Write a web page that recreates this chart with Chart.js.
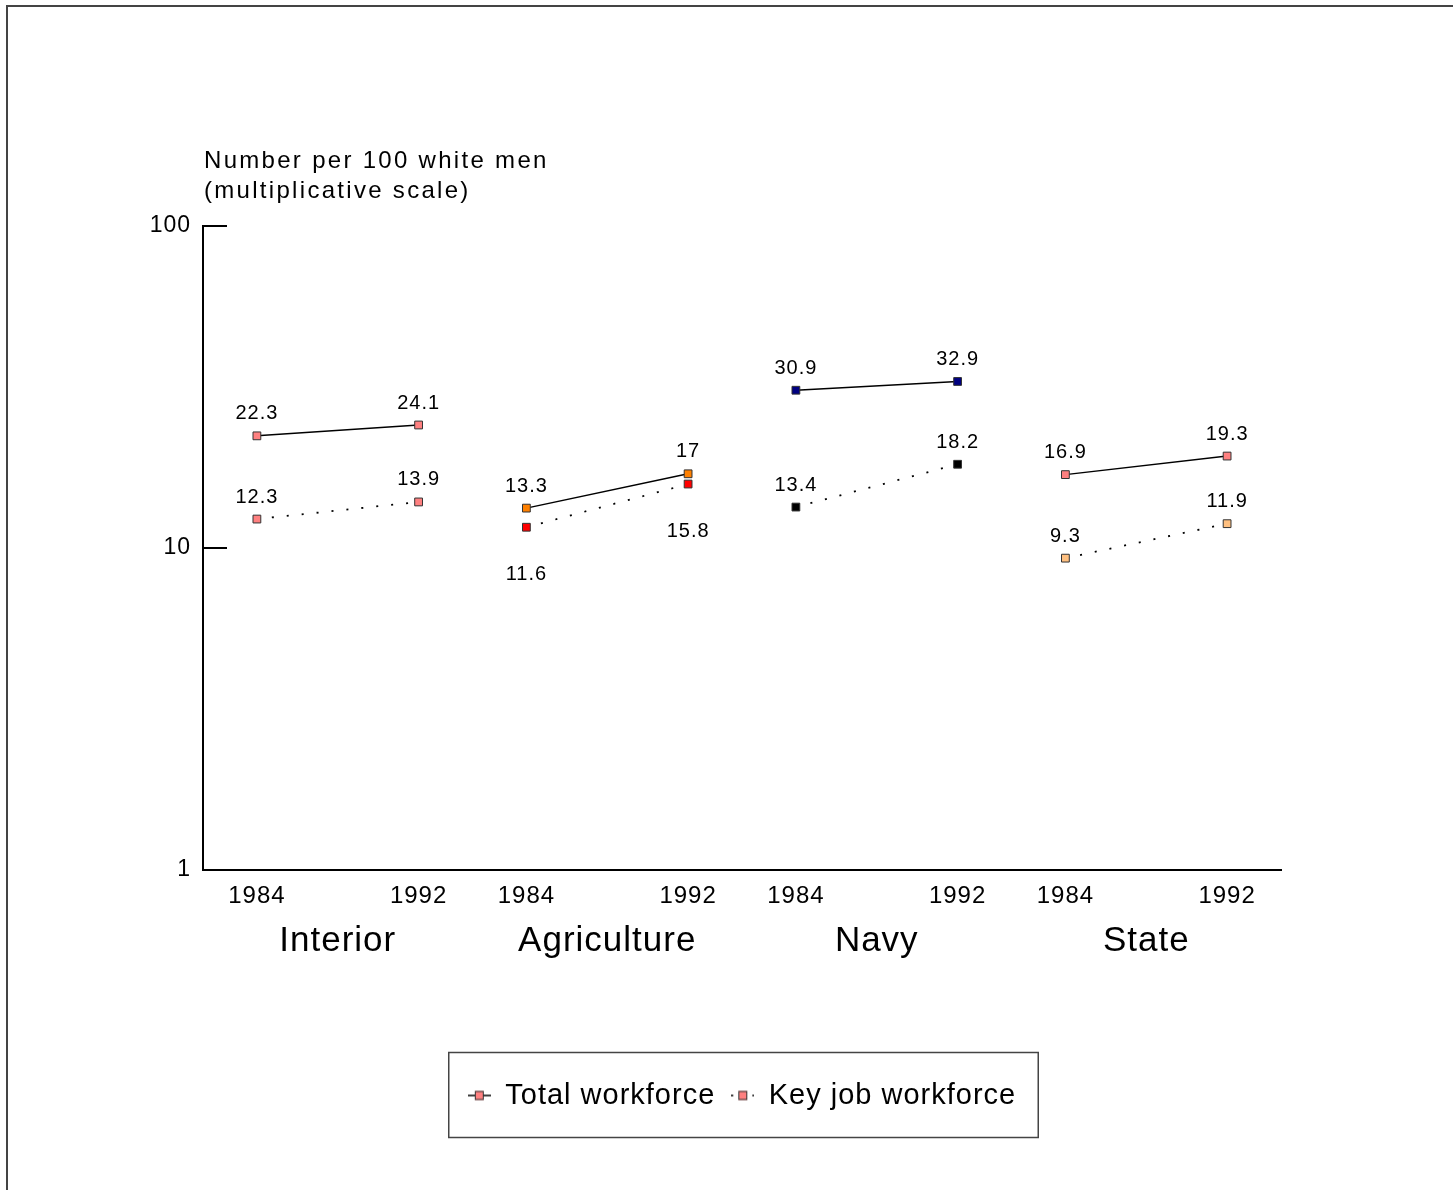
<!DOCTYPE html>
<html>
<head>
<meta charset="utf-8">
<script src="https://cdn.jsdelivr.net/npm/chart.js@4.4.0/dist/chart.umd.min.js"></script>
<style>
  html, body { margin: 0; padding: 0; background: #fff; }
  canvas { display: block; }
</style>
</head>
<body>
<canvas id="chart" width="1453" height="1190"></canvas>
<script>
const groups = ['Interior', 'Agriculture', 'Navy', 'State'];
const years = ['1984', '1992'];
const totalWorkforce = [[22.3, 24.1], [13.3, 17], [30.9, 32.9], [16.9, 19.3]];
const keyJobWorkforce = [[12.3, 13.9], [11.6, 15.8], [13.4, 18.2], [9.3, 11.9]];
const yTicks = [1, 10, 100];
const yTitle = ['Number per 100 white men', '(multiplicative scale)'];

const totalColors = ['#ff8080', '#ff8000', '#000080', '#ff8080'];
const keyColors = ['#ff8080', '#ff0000', '#000000', '#ffc080'];

const FONT = '"Liberation Sans", Arial, sans-serif';

// each group takes 5 units on the x scale, years 3 units apart
const xPos = (g, y) => g * 5 + 1 + y * 3;
const yearTicks = [];
groups.forEach((g, i) => years.forEach((yr, j) => yearTicks.push({ value: xPos(i, j), label: yr })));
const groupTicks = groups.map((g, i) => ({ value: i * 5 + 2.5, label: g }));

const datasets = [];
groups.forEach((g, i) => {
    datasets.push({
        label: 'Total workforce',
        data: years.map((yr, j) => ({ x: xPos(i, j), y: totalWorkforce[i][j] })),
        borderColor: '#000',
        borderWidth: 1.5,
        pointStyle: 'rect',
        pointRadius: 5.5,
        pointBackgroundColor: totalColors[i],
        pointBorderColor: '#333',
        pointBorderWidth: 1,
        labelBelow: false,
    });
    datasets.push({
        label: 'Key job workforce',
        data: years.map((yr, j) => ({ x: xPos(i, j), y: keyJobWorkforce[i][j] })),
        borderColor: '#000',
        borderWidth: 1.8,
        borderDash: [2, 13],
        pointStyle: 'rect',
        pointRadius: 5.5,
        pointBackgroundColor: keyColors[i],
        pointBorderColor: '#333',
        pointBorderWidth: 1,
        labelBelow: i === 1,
    });
});

function legendSymbol(dotted) {
    const c = document.createElement('canvas');
    c.width = 23;
    c.height = 12;
    const g = c.getContext('2d');
    g.strokeStyle = '#000';
    g.lineWidth = 1.5;
    if (dotted) g.setLineDash([2, 5]);
    g.beginPath();
    g.moveTo(0, 6);
    g.lineTo(23, 6);
    g.stroke();
    g.setLineDash([]);
    g.fillStyle = '#ff8080';
    g.fillRect(7, 1.5, 9, 9);
    g.strokeStyle = '#333';
    g.lineWidth = 1;
    g.strokeRect(7.5, 2, 8, 8);
    return c;
}

const spacing = {
    id: 'spacing',
    beforeLayout(chart) { chart.ctx.letterSpacing = '1px'; },
    beforeDraw(chart) { chart.ctx.letterSpacing = '1px'; },
};

const extras = {
    id: 'extras',
    afterDraw(chart) {
        const ctx = chart.ctx;
        const area = chart.chartArea;
        const y = chart.scales.y;
        ctx.save();

        // outer frame
        ctx.strokeStyle = '#444';
        ctx.lineWidth = 2;
        ctx.beginPath();
        ctx.moveTo(7, chart.height);
        ctx.lineTo(7, 6);
        ctx.lineTo(chart.width, 6);
        ctx.stroke();

        // inside tick marks on the y axis
        ctx.strokeStyle = '#000';
        ctx.lineWidth = 2;
        yTicks.slice(1).forEach(v => {
            const py = Math.round(y.getPixelForValue(v));
            ctx.beginPath();
            ctx.moveTo(area.left, py);
            ctx.lineTo(area.left + 24, py);
            ctx.stroke();
        });

        // axis title above the plot
        ctx.fillStyle = '#000';
        ctx.font = '24px ' + FONT;
        ctx.letterSpacing = '2.3px';
        ctx.textAlign = 'left';
        ctx.textBaseline = 'alphabetic';
        ctx.fillText(yTitle[0], area.left + 1, area.top - 58);
        ctx.fillText(yTitle[1], area.left + 1, area.top - 28);

        // value labels
        ctx.font = '20px ' + FONT;
        ctx.letterSpacing = '1px';
        ctx.textAlign = 'center';
        ctx.textBaseline = 'middle';
        chart.data.datasets.forEach((ds, di) => {
            const meta = chart.getDatasetMeta(di);
            meta.data.forEach((pt, pi) => {
                const off = ds.labelBelow ? 47 : -22;
                ctx.fillText(String(ds.data[pi].y), pt.x, pt.y + off);
            });
        });

        // legend frame
        const hb = chart.legend.legendHitBoxes;
        if (hb && hb.length) {
            const first = hb[0];
            const last = hb[hb.length - 1];
            const left = first.left - 19;
            const right = last.left + last.width + 22;
            const cy = first.top + first.height / 2;
            ctx.strokeStyle = '#444';
            ctx.lineWidth = 1.5;
            ctx.strokeRect(left, cy - 43, right - left, 85);
        }
        ctx.restore();
    },
};

new Chart(document.getElementById('chart'), {
    type: 'line',
    data: { datasets },
    plugins: [spacing, extras],
    options: {
        responsive: false,
        animation: false,
        layout: { padding: { top: 226, right: 172, bottom: 70, left: 0 } },
        scales: {
            x: {
                type: 'linear',
                min: 0,
                max: 20,
                afterBuildTicks: s => { s.ticks = yearTicks.map(t => ({ value: t.value })); },
                afterFit: s => { s.height = 45; },
                grid: { display: false, drawTicks: false },
                border: { display: true, color: '#000', width: 2 },
                ticks: {
                    autoSkip: false,
                    maxRotation: 0,
                    padding: 12,
                    color: '#000',
                    font: { family: FONT, size: 24 },
                    callback: (v, i) => yearTicks[i].label,
                },
            },
            x2: {
                type: 'linear',
                position: 'bottom',
                min: 0,
                max: 20,
                afterBuildTicks: s => { s.ticks = groupTicks.map(t => ({ value: t.value })); },
                afterFit: s => { s.height = 150; },
                grid: { display: false, drawTicks: false },
                border: { display: false },
                ticks: {
                    autoSkip: false,
                    maxRotation: 0,
                    padding: 5,
                    color: '#000',
                    font: { family: FONT, size: 35 },
                    callback: (v, i) => groupTicks[i].label,
                },
            },
            y: {
                type: 'logarithmic',
                min: 1,
                max: 100,
                afterBuildTicks: s => { s.ticks = yTicks.map(v => ({ value: v })); },
                afterFit: s => { s.width = 203; },
                grid: { display: false, drawTicks: false },
                border: { display: true, color: '#000', width: 2 },
                ticks: {
                    padding: 12,
                    color: '#000',
                    font: { family: FONT, size: 23 },
                    callback: v => String(v),
                },
            },
        },
        plugins: {
            tooltip: { enabled: false },
            legend: {
                position: 'bottom',
                fullSize: false,
                labels: {
                    usePointStyle: true,
                    pointStyleWidth: 23,
                    boxHeight: 12,
                    padding: 16,
                    color: '#000',
                    font: { family: FONT, size: 29 },
                    generateLabels: () => [
                        { text: 'Total workforce', pointStyle: legendSymbol(false), fillStyle: 'transparent', strokeStyle: 'transparent', lineWidth: 0, hidden: false, datasetIndex: 0, fontColor: '#000' },
                        { text: 'Key job workforce', pointStyle: legendSymbol(true), fillStyle: 'transparent', strokeStyle: 'transparent', lineWidth: 0, hidden: false, datasetIndex: 1, fontColor: '#000' },
                    ],
                },
            },
        },
    },
});
</script>
</body>
</html>
